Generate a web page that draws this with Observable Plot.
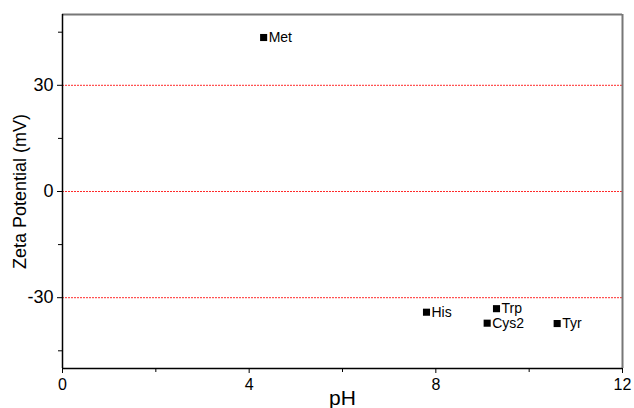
<!DOCTYPE html>
<html>
<head>
<meta charset="utf-8">
<script src="https://cdn.jsdelivr.net/npm/d3@7"></script>
<script src="https://cdn.jsdelivr.net/npm/@observablehq/plot@0.6"></script>
<style>
  body { margin: 0; background: #fff; }
  #chart svg { font-family: "Liberation Sans", Arial, sans-serif; }
</style>
</head>
<body>
<div id="chart"></div>
<script>
const names = ["Met", "His", "Trp", "Cys2", "Tyr"];
const pH = [4.31, 7.8, 9.3, 9.1, 10.6];
const zeta = [43.5, -34.1, -33.1, -37.2, -37.3];
const xTicks = [0, 4, 8, 12];
const xMinor = [2, 6, 10];
const yTicks = [-30, 0, 30];
const yMinor = [-45, -15, 15, 45];
const refLines = [30, 0, -30];
const xTitle = ["pH"];
const yTitle = ["Zeta Potential (mV)"];

const data = names.map((n, i) => ({name: n, x: pH[i], y: zeta[i]}));

const chart = Plot.plot({
  width: 634,
  height: 408,
  marginLeft: 62,
  marginRight: 12,
  marginTop: 14,
  marginBottom: 40,
  style: {fontFamily: "'Liberation Sans', Arial, sans-serif", background: "#fff"},
  x: {domain: [0, 12]},
  y: {domain: [-50, 50]},
  marks: [
    Plot.ruleY(refLines, {stroke: "#ff2a2a", strokeDasharray: "2,1", strokeWidth: 1}),
    Plot.ruleY([50], {stroke: "#777", strokeWidth: 2}),
    Plot.ruleX([12], {stroke: "#777", strokeWidth: 2}),
    Plot.ruleX([0], {stroke: "#000", strokeWidth: 1.5}),
    Plot.ruleY([-50], {stroke: "#000", strokeWidth: 1.5}),
    Plot.axisX({ticks: xTicks, tickSize: 5, tickPadding: 5, fontSize: 16, label: null, color: "#000"}),
    Plot.axisX({ticks: xMinor, tickSize: 4, text: null, label: null}),
    Plot.axisY({ticks: yTicks, tickSize: 5, tickPadding: 4, fontSize: 18, label: null, tickFormat: d => d, color: "#000"}),
    Plot.axisY({ticks: yMinor, tickSize: 4, text: null, label: null}),
    Plot.text(xTitle, {frameAnchor: "bottom", lineAnchor: "top", dy: 22, fontSize: 21, fill: "#000"}),
    Plot.text(yTitle, {frameAnchor: "left", textAnchor: "middle", lineAnchor: "top", rotate: -90, dx: -49, fontSize: 18, fill: "#000"}),
    Plot.dot(data, {x: "x", y: "y", symbol: "square", fill: "#000", r: 4}),
    Plot.text(data, {x: "x", y: "y", text: "name", textAnchor: "start", dx: 5, fontSize: 14, fill: "#000"})
  ]
});
document.getElementById("chart").appendChild(chart);
</script>
</body>
</html>
